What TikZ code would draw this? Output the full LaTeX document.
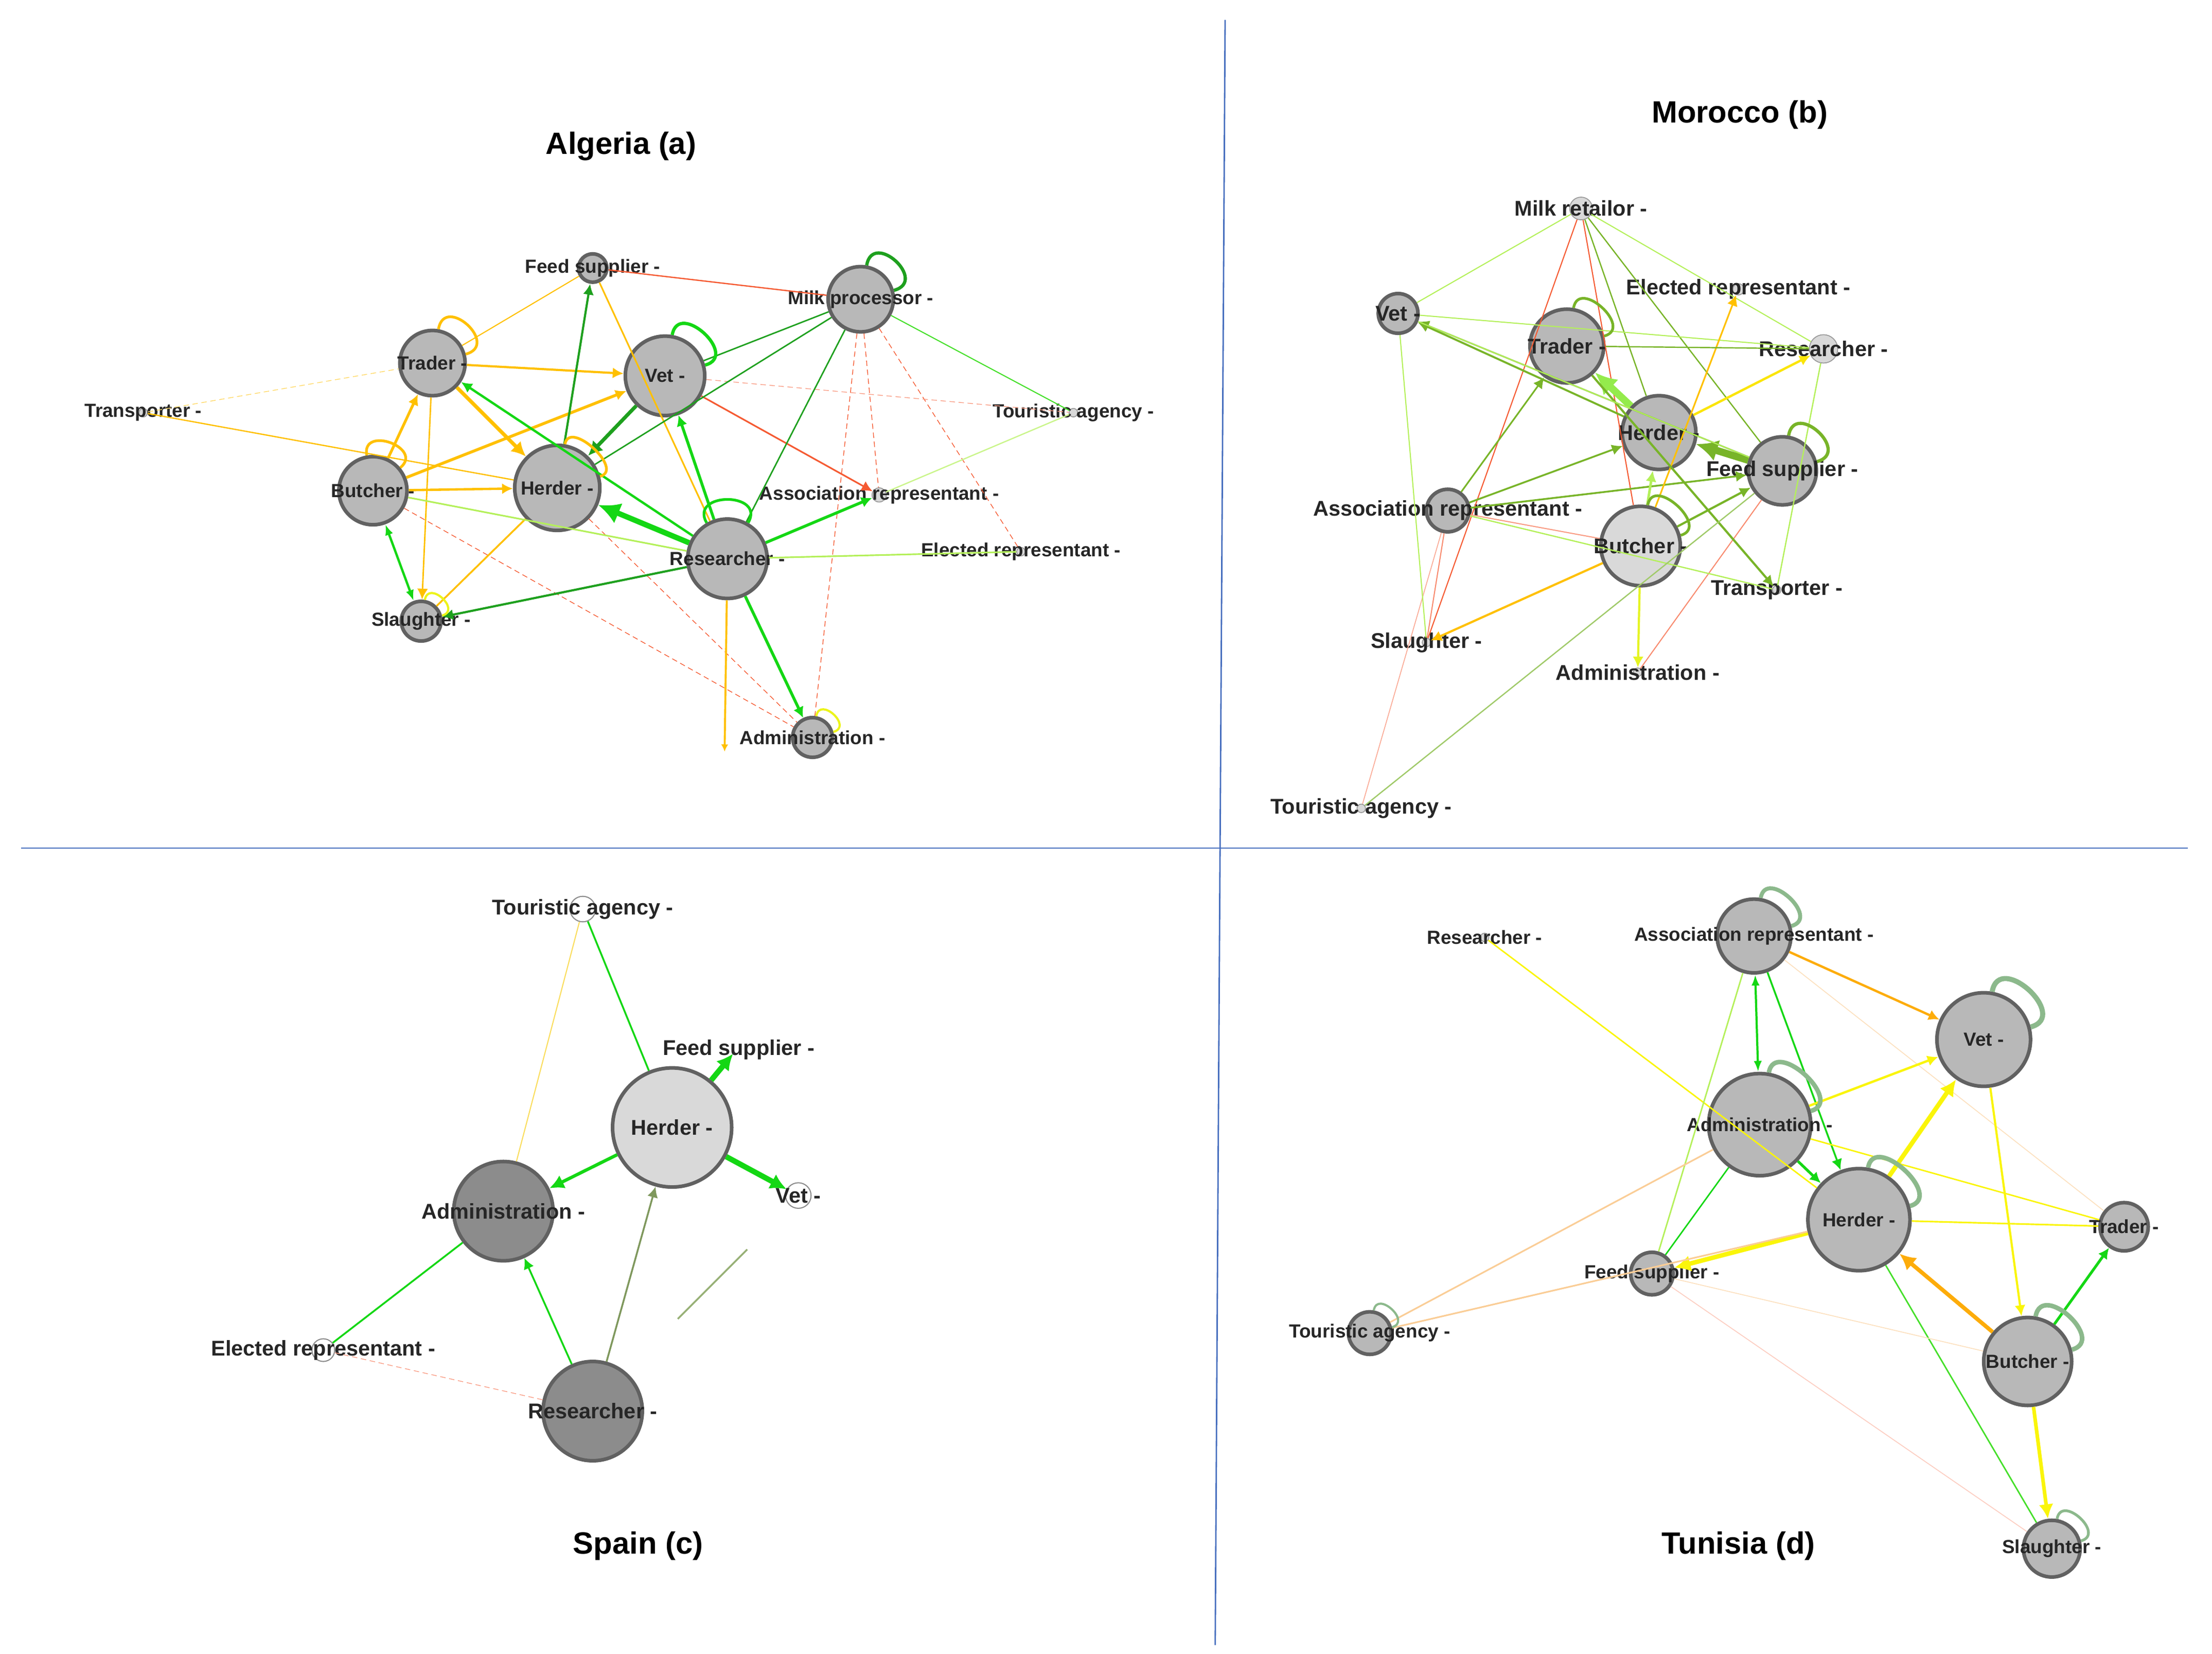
\documentclass[tikz,border=0pt]{standalone}
\usepackage{fontspec}
\setmainfont{Liberation Sans}
\usetikzlibrary{arrows.meta}
\definecolor{gOr}{RGB}{255,192,0}
\definecolor{gGr}{RGB}{20,215,20}
\definecolor{gDk}{RGB}{30,160,30}
\definecolor{gLi}{RGB}{180,240,90}
\definecolor{gRd}{RGB}{245,90,50}
\definecolor{gOl}{RGB}{120,180,40}
\definecolor{gYe}{RGB}{250,245,10}
\definecolor{gPe}{RGB}{250,205,150}
\definecolor{gLp}{RGB}{140,185,140}
\definecolor{gBl}{RGB}{70,110,190}
% vertex: circle with given radius (picture units), label on top
\newcommand{\vtx}[5][vfill]{%
  \node[vtx=#4,#1] (#2) at (#3) {};
  \node[lbl] at (#2) {#5};}
\begin{document}
\begin{tikzpicture}[x=0.02756cm,y=-0.02756cm,
  vtx/.style={circle,draw=black!62,line width=2pt,inner sep=0pt,minimum size={2*#1*0.02756cm}},
  vfill/.style={fill=black!28},
  vlite/.style={fill=black!15},
  vdark/.style={fill=black!45},
  vsmall/.style={fill=black!15,line width=0.5pt,draw=black!40},
  vwhite/.style={fill=white,line width=0.6pt,draw=black!45},
  lbl/.style={font=\fontsize{10.5}{12}\selectfont\bfseries,text=black!85},
  ttl/.style={font=\fontsize{17}{19}\selectfont\bfseries},
  e/.style={line width=#1},
  e/.default=0.9pt,
  ar/.style={-{Latex[length=#1,width=#1]}},
  ar/.default=6pt,
  dt/.style={dash pattern=on 3pt off 2pt,line width=0.4pt},
  lp/.style={out=80,in=15,loop,min distance=#1},
  lp/.default=7mm]
\useasboundingbox (0,0) rectangle (1560,1166);
% dividers
\draw[gBl,line width=0.8pt] (864,14) -- (857,1160);
\draw[gBl,line width=0.8pt] (15,598) -- (1543,598);

% ---------- Algeria (a)
\node[ttl] (t-a) at (438,103) {Algeria (a)};
\vtx{a-feed}{418,189}{10}{Feed supplier -}
\vtx{a-milk}{607,211}{23}{Milk processor -}
\vtx{a-trader}{305,256}{23}{Trader -}
\vtx{a-vet}{469,265}{28}{Vet -}
\vtx[vsmall]{a-transp}{101,291}{3}{Transporter -}
\vtx[vsmall]{a-tour}{757,291}{3}{Touristic agency -}
\vtx{a-butcher}{263,346}{24}{Butcher -}
\vtx{a-herder}{393,344}{30}{Herder -}
\vtx[vsmall]{a-assoc}{620,349}{5}{Association representant -}
\vtx[vsmall]{a-elect}{720,389}{3}{Elected representant -}
\vtx{a-slaught}{297,438}{14}{Slaughter -}
\vtx{a-admin}{573,520}{14}{Administration -}
\vtx{a-researcher}{513,394}{28}{Researcher -}
\coordinate (a-pt) at (511,530);
\draw[gRd,e=0.7pt] (a-feed) -- (a-milk);
\draw[gRd,e=0.9pt,ar] (a-vet) -- (a-assoc);
\draw[gRd,dt] (a-milk) -- (a-admin);
\draw[gRd,dt] (a-milk) -- (a-assoc);
\draw[gRd,dt] (a-milk) -- (a-elect);
\draw[gRd,dt] (a-butcher) -- (a-admin);
\draw[gRd,dt] (a-herder) -- (a-admin);
\draw[gRd!60,dt] (a-vet) -- (a-tour);
\draw[gOr!60,dt] (a-transp) -- (a-trader);
\draw[gOr,e=0.7pt] (a-transp) -- (a-herder);
\draw[gOr,e=0.6pt] (a-trader) -- (a-feed);
\draw[gOr,e=1.2pt,ar] (a-trader) -- (a-vet);
\draw[gOr,e=2pt,ar=8pt] (a-trader) -- (a-herder);
\draw[gOr,e=1.5pt,ar] (a-butcher) -- (a-trader);
\draw[gOr,e=1.3pt,ar] (a-butcher) -- (a-herder);
\draw[gOr,e=1.6pt,ar] (a-butcher) -- (a-vet);
\draw[gOr,e=0.8pt,ar] (a-trader) -- (a-slaught);
\draw[gOr,e=0.9pt] (a-feed) -- (a-researcher);
\draw[gOr,e=1.1pt,ar=4pt] (a-researcher) -- (a-pt);
\draw[gOr,e=1pt] (a-herder) -- (a-slaught);
\draw[gGr,e=1.3pt,{Latex[length=6pt]}-{Latex[length=6pt]}] (a-butcher) -- (a-slaught);
\draw[gDk,e=1.2pt,ar] (a-herder) -- (a-feed);
\draw[gGr,e=1.3pt,ar] (a-researcher) -- (a-trader);
\draw[gDk,e=2pt,ar=8pt] (a-vet) -- (a-herder);
\draw[gDk,e=0.8pt] (a-milk) -- (a-vet);
\draw[gDk,e=0.8pt] (a-milk) -- (a-herder);
\draw[gDk,e=0.8pt] (a-milk) -- (a-researcher);
\draw[gGr!70!gLi,e=0.6pt] (a-milk) -- (a-tour);
\draw[gGr,e=3pt,ar=12pt] (a-researcher) -- (a-herder);
\draw[gGr,e=1.6pt,ar] (a-researcher) -- (a-vet);
\draw[gGr,e=1.6pt,ar] (a-researcher) -- (a-assoc);
\draw[gLi!70,e=0.7pt] (a-assoc) -- (a-tour);
\draw[gDk,e=1.2pt,ar] (a-researcher) -- (a-slaught);
\draw[gGr,e=1.6pt,ar] (a-researcher) -- (a-admin);
\draw[gLi,e=0.9pt] (a-researcher) -- (a-elect);
\draw[gLi,e=0.9pt] (a-researcher) -- (a-butcher);
\draw[gOr,e=1.5pt] (a-trader) to[lp] (a-trader);
\draw[gGr,e=1.8pt] (a-vet) to[lp] (a-vet);
\draw[gDk,e=1.8pt] (a-milk) to[lp] (a-milk);
\draw[gOr,e=1.5pt] (a-butcher) to[out=100,in=40,loop,min distance=6mm] (a-butcher);
\draw[gOr,e=1.5pt] (a-herder) to[lp=5mm] (a-herder);
\draw[gGr,e=1.5pt] (a-researcher) to[out=120,in=60,loop,min distance=7mm] (a-researcher);
\draw[gYe!80!gLi,e=1.2pt] (a-slaught) to[lp=4mm] (a-slaught);
\draw[gYe!80!gLi,e=1.2pt] (a-admin) to[lp=4mm] (a-admin);

% ---------- Morocco (b)
\node[ttl] (t-b) at (1227,81) {Morocco (b)};
\begin{scope}[lbl/.append style={font=\fontsize{11.8}{13}\selectfont\bfseries}]
\vtx[vsmall]{b-milk}{1115,147}{8}{Milk retailor -}
\vtx{b-vet}{986,221}{14}{Vet -}
\vtx[vsmall]{b-elect}{1226,204}{4}{Elected representant -}
\vtx{b-trader}{1105,244}{26}{Trader -}
\vtx[vsmall]{b-research}{1286,246}{10}{Researcher -}
\vtx{b-herder}{1170,305}{26}{Herder -}
\vtx{b-feed}{1257,332}{24}{Feed supplier -}
\vtx{b-assoc}{1021,360}{15}{Association representant -}
\vtx[vlite]{b-butcher}{1157,385}{28}{Butcher -}
\vtx[vsmall]{b-transp}{1253,416}{3}{Transporter -}
\vtx[vsmall]{b-slaught}{1006,453}{3}{Slaughter -}
\vtx[vsmall]{b-admin}{1155,474}{3}{Administration -}
\vtx[vsmall]{b-tour}{960,570}{3}{Touristic agency -}
\end{scope}
\draw[gRd,e=0.6pt] (b-milk) -- (b-slaught);
\draw[gRd,e=0.6pt] (b-milk) -- (b-butcher);
\draw[gRd!70,e=0.6pt] (b-assoc) -- (b-slaught);
\draw[gRd!50,e=0.5pt] (b-assoc) -- (b-tour);
\draw[gRd!70,e=0.6pt] (b-feed) -- (b-admin);
\draw[gLi,e=0.6pt] (b-milk) -- (b-vet);
\draw[gOl,e=0.7pt] (b-milk) -- (b-herder);
\draw[gOl,e=0.7pt] (b-milk) -- (b-feed);
\draw[gLi,e=0.6pt] (b-milk) -- (b-research);
\draw[gLi,e=0.6pt] (b-vet) -- (b-research);
\draw[gLi,e=0.6pt] (b-vet) -- (b-slaught);
\draw[gOl,e=1.1pt,ar] (b-herder) -- (b-vet);
\draw[gOl,e=0.8pt,ar] (b-feed) -- (b-vet);
\draw[gOl,e=0.9pt,ar] (b-assoc) -- (b-trader);
\draw[gOl,e=1pt,ar] (b-assoc) -- (b-herder);
\draw[gOl,e=1pt,ar] (b-assoc) -- (b-feed);
\draw[gLi,e=0.7pt] (b-assoc) -- (b-transp);
\draw[gLi!80!gGr,e=4pt,ar=12pt] (b-herder) -- (b-trader);
\draw[gOl,e=4pt,ar=12pt] (b-feed) -- (b-herder);
\draw[gYe!70!gOr,e=1.3pt,ar] (b-herder) -- (b-research);
\draw[gOr,e=0.9pt,ar] (b-butcher) -- (b-elect);
\draw[gOr,e=1.2pt,ar] (b-butcher) -- (b-slaught);
\draw[gOl,e=1.2pt,ar] (b-trader) -- (b-transp);
\draw[gOl,e=1.2pt,ar] (b-butcher) -- (b-feed);
\draw[gLi,e=1.4pt,ar] (b-butcher) -- (b-herder);
\draw[gYe!70!gLi,e=1.2pt,ar] (b-butcher) -- (b-admin);
\draw[gOl,e=0.7pt] (b-trader) -- (b-research);
\draw[gLi,e=0.7pt] (b-research) -- (b-transp);
\draw[gOl!70,e=0.7pt] (b-feed) -- (b-tour);
\draw[gLi,e=0.6pt] (b-vet) -- (b-feed);
\draw[gRd!60,e=0.6pt] (b-assoc) -- (b-butcher);
\draw[gOl,e=1.5pt] (b-trader) to[lp=6mm] (b-trader);
\draw[gOl,e=1.8pt] (b-feed) to[lp=7mm] (b-feed);
\draw[gOl,e=1.5pt] (b-butcher) to[lp=6mm] (b-butcher);

% ---------- Spain (c)
\node[ttl] (t-c) at (450,1090) {Spain (c)};
\begin{scope}[lbl/.append style={font=\fontsize{11.8}{13}\selectfont\bfseries}]
\vtx[vwhite]{c-tour}{411,641}{9}{Touristic agency -}
\vtx[vlite]{c-herder}{474,795}{42}{Herder -}
\coordinate (c-feed) at (517,743);
\node[lbl] (c-feedl) at (521,740) {Feed supplier -};
\vtx[vwhite]{c-vet}{563,843}{9}{Vet -}
\vtx[vdark]{c-admin}{355,854}{35}{Administration -}
\vtx[vwhite]{c-elect}{228,952}{8}{Elected representant -}
\vtx[vdark]{c-research}{418,995}{35}{Researcher -}
\end{scope}
\coordinate (c-s1) at (478,930);
\coordinate (c-s2) at (527,881);
\draw[gOl!70!black!60,e=1pt] (c-s1) -- (c-s2);
\draw[gGr,e=1pt] (c-herder) -- (c-tour);
\draw[gGr,e=3pt,ar=9pt] (c-herder) -- (c-feed);
\draw[gGr,e=3pt,ar=9pt] (c-herder) -- (c-vet);
\draw[gGr,e=1.8pt,ar=8pt] (c-herder) -- (c-admin);
\draw[gGr,e=1pt] (c-admin) -- (c-elect);
\draw[gGr,e=1pt,ar] (c-research) -- (c-admin);
\draw[gOl!60!black!70,e=1pt,ar] (c-research) -- (c-herder);
\draw[gRd!60,dt] (c-research) -- (c-elect);
\draw[gYe!40!gPe,e=0.6pt] (c-admin) -- (c-tour);

% ---------- Tunisia (d)
\node[ttl] (t-d) at (1226,1090) {Tunisia (d)};
\vtx[vsmall]{d-research}{1047,661}{3}{Researcher -}
\vtx{d-assoc}{1237,660}{26}{Association representant -}
\vtx{d-vet}{1399,733}{33}{Vet -}
\vtx{d-admin}{1241,793}{36}{Administration -}
\vtx{d-herder}{1311,860}{36}{Herder -}
\vtx{d-trader}{1498,865}{17}{Trader -}
\vtx{d-feed}{1165,898}{15}{Feed supplier -}
\vtx{d-tour}{966,940}{15}{Touristic agency -}
\vtx{d-butcher}{1430,960}{31}{Butcher -}
\vtx{d-slaught}{1447,1092}{20}{Slaughter -}
\draw[gYe,e=0.8pt] (d-research) -- (d-herder);
\draw[gOr!80!gRd,e=1.3pt,ar] (d-assoc) -- (d-vet);
\draw[gGr,e=1.2pt,{Latex[length=6pt]}-{Latex[length=6pt]}] (d-assoc) -- (d-admin);
\draw[gGr,e=1pt,ar] (d-assoc) -- (d-herder);
\draw[gPe!60,e=0.5pt] (d-assoc) -- (d-trader);
\draw[gLi,e=0.8pt] (d-assoc) -- (d-feed);
\draw[gYe,e=1.3pt,ar] (d-admin) -- (d-vet);
\draw[gYe,e=2.5pt,ar=9pt] (d-herder) -- (d-vet);
\draw[gYe,e=2.5pt,ar=9pt] (d-herder) -- (d-feed);
\draw[gOr!80!gRd,e=2.2pt,ar=9pt] (d-butcher) -- (d-herder);
\draw[gGr,e=1.5pt,ar] (d-butcher) -- (d-trader);
\draw[gYe,e=2pt,ar=8pt] (d-butcher) -- (d-slaught);
\draw[gGr!70!gLi,e=0.8pt] (d-herder) -- (d-slaught);
\draw[gYe,e=1.2pt,ar] (d-vet) -- (d-butcher);
\draw[gYe,e=0.9pt] (d-herder) -- (d-trader);
\draw[gYe,e=0.8pt] (d-admin) -- (d-trader);
\draw[gPe,e=0.9pt] (d-tour) -- (d-admin);
\draw[gPe,e=0.9pt] (d-tour) -- (d-herder);
\draw[gPe!60,e=0.5pt] (d-feed) -- (d-butcher);
\draw[gRd!30,e=0.5pt] (d-feed) -- (d-slaught);
\draw[gGr,e=0.8pt] (d-feed) -- (d-admin);
\draw[gGr,e=1.5pt,ar] (d-admin) -- (d-herder);
\draw[gLp,e=2.2pt] (d-assoc) to[lp=6mm] (d-assoc);
\draw[gLp,e=2.8pt] (d-vet) to[lp=8mm] (d-vet);
\draw[gLp,e=2.5pt] (d-admin) to[lp=7mm] (d-admin);
\draw[gLp,e=2.5pt] (d-herder) to[lp=7mm] (d-herder);
\draw[gLp,e=2.5pt] (d-butcher) to[lp=7mm] (d-butcher);
\draw[gLp,e=1.5pt] (d-slaught) to[lp=5mm] (d-slaught);
\draw[gLp,e=1.2pt] (d-tour) to[lp=4mm] (d-tour);
\end{tikzpicture}
\end{document}
